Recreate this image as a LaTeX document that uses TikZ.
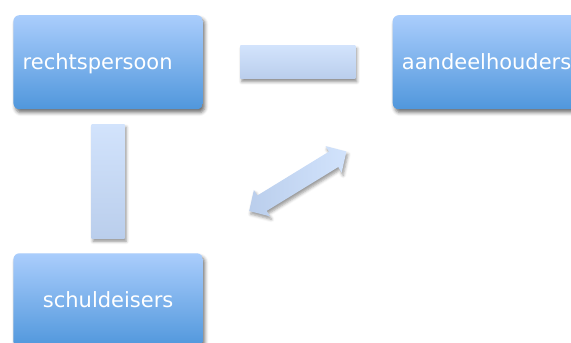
\documentclass[tikz,border=0pt]{standalone}
\usepackage{fontspec}
\setmainfont{DejaVu Sans}
\usetikzlibrary{shadows.blur,calc}
\definecolor{boxtop}{RGB}{170,205,252}
\definecolor{boxbot}{RGB}{80,151,220}
\definecolor{bartop}{RGB}{210,227,252}
\definecolor{barbot}{RGB}{186,206,236}
\begin{document}
\begin{tikzpicture}[x=1pt,y=-1pt,
  entity/.style={rectangle, rounded corners=6pt, minimum height=94pt,
    text width=171pt, inner xsep=9.25pt, inner ysep=0pt,
    top color=boxtop, bottom color=boxbot, draw=none, text=white,
    font=\fontsize{21}{25}\selectfont, text height=18pt, text depth=3.4pt,
    blur shadow={shadow xshift=2pt, shadow yshift=-3.5pt, shadow blur radius=3.5pt, shadow opacity=55}},
  linkbar/.style={rectangle, inner sep=0pt, top color=bartop, bottom color=barbot, draw=none,
    blur shadow={shadow xshift=1.5pt, shadow yshift=-3pt, shadow blur radius=3pt, shadow opacity=45}},
  linkarrow/.style={left color=barbot, right color=bartop, draw=none,
    blur shadow={shadow xshift=1.5pt, shadow yshift=-3pt, shadow blur radius=3pt, shadow opacity=40}}
]
\useasboundingbox (0,0) rectangle (571,343);
\node[entity, align=left] (rp) at (108.15,62.2) {rechtspersoon};
\node[entity, align=left] (ah) at (487.45,62.2) {aandeelhouders};
\node[entity, align=center] (sd) at (108.15,300.3) {schuldeisers};
\node[linkbar, minimum width=115pt, minimum height=33pt] (hbar) at ($(rp.east)!0.5!(ah.west)$) {};
\node[linkbar, minimum width=33pt, minimum height=114pt] (vbar) at ($(rp.south)!0.5!(sd.north)$) {};
\coordinate (mid) at ($(sd)!0.5!(ah)$);
\begin{scope}[shift={(mid)}, rotate=31.5]
  \path[linkarrow] (-57,0) -- (-42,15.5) -- (-42,9) -- (42,9) -- (42,15.5)
    -- (57,0) -- (42,-15.5) -- (42,-9) -- (-42,-9) -- (-42,-15.5) -- cycle;
\end{scope}
\end{tikzpicture}
\end{document}
